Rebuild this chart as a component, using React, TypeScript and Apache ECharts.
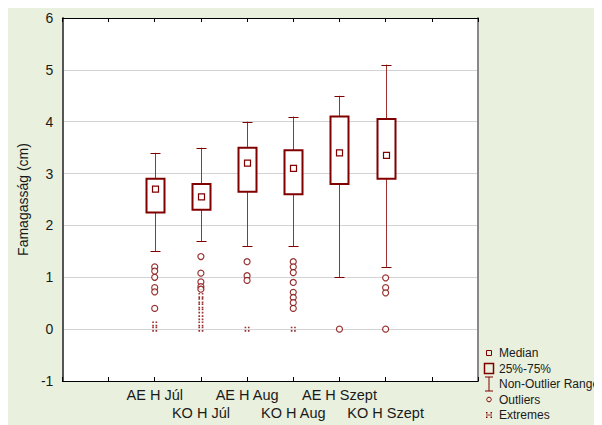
import React, { useEffect, useRef } from "react";
import * as echarts from "echarts";

const categories = ["AE H Júl", "KO H Júl", "AE H Aug", "KO H Aug", "AE H Szept", "KO H Szept"];
const positions = [2, 3, 4, 5, 6, 7];
const whiskerLow = [1.5, 1.7, 1.6, 1.6, 1.0, 1.2];
const q1 = [2.25, 2.3, 2.65, 2.6, 2.8, 2.9];
const medians = [2.7, 2.55, 3.2, 3.1, 3.4, 3.35];
const q3 = [2.9, 2.8, 3.5, 3.45, 4.1, 4.05];
const whiskerHigh = [3.4, 3.5, 4.0, 4.1, 4.5, 5.1];
const outliers = [
  [1.2, 1.12, 1.0, 0.8, 0.72, 0.4],
  [1.4, 1.08, 0.91, 0.82, 0.77],
  [1.3, 1.03, 0.94],
  [1.3, 1.2, 1.09, 0.9, 0.71, 0.61, 0.51, 0.4],
  [0],
  [0.99, 0.8, 0.7, 0],
];
const extremes = [
  [0.1, 0],
  [0.65, 0.55, 0.45, 0.35, 0.22, 0.1, 0],
  [0],
  [0],
  [],
  [],
];
const yTicks = [-1, 0, 1, 2, 3, 4, 5, 6];

const RED = "#800000";
const FONT = "'Liberation Sans', Arial, sans-serif";

export default function App() {
  const ref = useRef<HTMLDivElement>(null);
  useEffect(() => {
    if (!ref.current) return;
    const chart = echarts.init(ref.current, undefined, { renderer: "svg" });
    const boxData = positions.map((p, i) => [p, whiskerLow[i], q1[i], medians[i], q3[i], whiskerHigh[i]]);
    const outData = outliers.flatMap((arr, i) => arr.map((v) => [positions[i], v]));
    const extData = extremes.flatMap((arr, i) => arr.map((v) => [positions[i], v]));

    const legendX = 481;
    const legendTextX = 491;
    const legendRows = [345, 360.5, 376, 391.5, 407];
    const legendLabels = ["Median", "25%-75%", "Non-Outlier Range", "Outliers", "Extremes"];

    const option: any = {
      animation: false,
      backgroundColor: "#e9f0dd",
      grid: {
        left: 54,
        right: 124,
        top: 10,
        bottom: 44,
        show: true,
        backgroundColor: "#ffffff",
        borderWidth: 0,
      },
      xAxis: [
        {
          type: "value",
          min: 0,
          max: 9,
          interval: 1,
          position: "bottom",
          splitLine: { show: false },
          axisLine: { show: true, onZero: false, lineStyle: { color: "#000", width: 1 } },
          axisTick: { show: true, inside: true, length: 4, lineStyle: { color: "#000" } },
          axisLabel: {
            show: true,
            margin: 5,
            fontSize: 14.5,
            lineHeight: 18,
            color: "#1a1a1a",
            fontFamily: FONT,
            hideOverlap: false,
            showMinLabel: true,
            showMaxLabel: true,
            formatter: (v: number) => {
              const i = positions.indexOf(v);
              if (i < 0) return "";
              return i % 2 === 0 ? categories[i] : "\n" + categories[i];
            },
          },
        },
        {
          type: "value",
          min: 0,
          max: 9,
          interval: 1,
          position: "top",
          splitLine: { show: false },
          axisLine: { show: true, onZero: false, lineStyle: { color: "#000", width: 1 } },
          axisTick: { show: true, inside: true, length: 4, lineStyle: { color: "#000" } },
          axisLabel: { show: false },
        },
      ],
      yAxis: [
        {
          type: "value",
          min: -1,
          max: 6,
          interval: 1,
          position: "left",
          name: "Famagasság (cm)",
          nameLocation: "middle",
          nameGap: 32,
          nameTextStyle: { fontSize: 14, color: "#1a1a1a", fontFamily: FONT },
          axisLine: { show: true, onZero: false, lineStyle: { color: "#555", width: 2 } },
          axisTick: { show: false },
          splitLine: { show: true, lineStyle: { color: "#d3d3d3", width: 1 } },
          axisLabel: {
            margin: 9,
            fontSize: 14,
            color: "#1a1a1a",
            fontFamily: FONT,
            formatter: (v: number) => (yTicks.includes(v) ? String(v) : ""),
          },
        },
        {
          type: "value",
          min: -1,
          max: 6,
          interval: 1,
          position: "right",
          axisLine: { show: true, onZero: false, lineStyle: { color: "#888", width: 2 } },
          axisTick: { show: false },
          splitLine: { show: false },
          axisLabel: { show: false },
        },
      ],
      series: [
        {
          type: "custom",
          xAxisIndex: 0,
          yAxisIndex: 0,
          data: boxData,
          encode: { x: 0, y: [1, 2, 3, 4, 5] },
          z: 3,
          renderItem: (params: any, api: any) => {
            const x = api.value(0);
            const pLow = api.coord([x, api.value(1)]);
            const pQ1 = api.coord([x, api.value(2)]);
            const pMed = api.coord([x, api.value(3)]);
            const pQ3 = api.coord([x, api.value(4)]);
            const pHigh = api.coord([x, api.value(5)]);
            const cx = Math.round(pLow[0]) + 0.5;
            const bw = 18;
            const cw = 10;
            const ms = 6;
            return {
              type: "group",
              children: [
                {
                  type: "line",
                  shape: { x1: cx, y1: pLow[1], x2: cx, y2: pQ1[1] },
                  style: { stroke: "#a03030", lineWidth: 1 },
                },
                {
                  type: "line",
                  shape: { x1: cx, y1: pQ3[1], x2: cx, y2: pHigh[1] },
                  style: { stroke: "#a03030", lineWidth: 1 },
                },
                {
                  type: "line",
                  shape: { x1: cx - cw / 2, y1: Math.round(pLow[1]) + 0.5, x2: cx + cw / 2, y2: Math.round(pLow[1]) + 0.5 },
                  style: { stroke: RED, lineWidth: 1 },
                },
                {
                  type: "line",
                  shape: { x1: cx - cw / 2, y1: Math.round(pHigh[1]) + 0.5, x2: cx + cw / 2, y2: Math.round(pHigh[1]) + 0.5 },
                  style: { stroke: RED, lineWidth: 1 },
                },
                {
                  type: "rect",
                  shape: { x: cx - bw / 2, y: pQ3[1], width: bw, height: pQ1[1] - pQ3[1] },
                  style: { stroke: RED, lineWidth: 2, fill: "#fff" },
                },
                {
                  type: "rect",
                  shape: { x: cx - ms / 2, y: pMed[1] - ms / 2, width: ms, height: ms },
                  style: { stroke: RED, lineWidth: 1.2, fill: "#fff" },
                },
              ],
            };
          },
        },
        {
          type: "scatter",
          xAxisIndex: 0,
          yAxisIndex: 0,
          data: outData,
          symbol: "circle",
          symbolSize: 6,
          z: 4,
          itemStyle: { color: "#fff", borderColor: RED, borderWidth: 1.2 },
        },
        {
          type: "scatter",
          xAxisIndex: 0,
          yAxisIndex: 0,
          data: extData,
          symbol: "path://M0,0h2v2h-2z M4,0h2v2h-2z M0,4h2v2h-2z M4,4h2v2h-2z",
          symbolSize: [5, 5],
          z: 4,
          itemStyle: { color: RED },
        },
      ],
      graphic: [
        {
          type: "group",
          children: [
            {
              type: "rect",
              shape: { x: legendX - 2.5, y: legendRows[0] - 2.5, width: 5, height: 5 },
              style: { stroke: RED, lineWidth: 1, fill: "transparent" },
            },
            {
              type: "rect",
              shape: { x: legendX - 4.5, y: legendRows[1] - 5, width: 9, height: 10 },
              style: { stroke: RED, lineWidth: 1.5, fill: "transparent" },
            },
            {
              type: "line",
              shape: { x1: legendX, y1: legendRows[2] - 7, x2: legendX, y2: legendRows[2] + 7 },
              style: { stroke: RED, lineWidth: 1 },
            },
            {
              type: "line",
              shape: { x1: legendX - 4, y1: legendRows[2] - 7, x2: legendX + 4, y2: legendRows[2] - 7 },
              style: { stroke: RED, lineWidth: 1 },
            },
            {
              type: "line",
              shape: { x1: legendX - 4, y1: legendRows[2] + 7, x2: legendX + 4, y2: legendRows[2] + 7 },
              style: { stroke: RED, lineWidth: 1 },
            },
            {
              type: "circle",
              shape: { cx: legendX, cy: legendRows[3], r: 2.3 },
              style: { stroke: RED, lineWidth: 1, fill: "transparent" },
            },
            {
              type: "rect",
              shape: { x: legendX - 3, y: legendRows[4] - 3, width: 1.5, height: 1.5 },
              style: { fill: RED },
            },
            {
              type: "rect",
              shape: { x: legendX + 1.5, y: legendRows[4] - 3, width: 1.5, height: 1.5 },
              style: { fill: RED },
            },
            {
              type: "rect",
              shape: { x: legendX - 3, y: legendRows[4] + 1.5, width: 1.5, height: 1.5 },
              style: { fill: RED },
            },
            {
              type: "rect",
              shape: { x: legendX + 1.5, y: legendRows[4] + 1.5, width: 1.5, height: 1.5 },
              style: { fill: RED },
            },
            {
              type: "line",
              shape: { x1: legendX - 3, y1: legendRows[4], x2: legendX + 3, y2: legendRows[4] },
              style: { stroke: RED, lineWidth: 0.8 },
            },
            ...legendLabels.map((t, i) => ({
              type: "text",
              x: legendTextX,
              y: legendRows[i],
              style: {
                text: t,
                fontSize: 12,
                fontFamily: FONT,
                fill: "#1a1a1a",
                verticalAlign: "middle",
                align: "left",
              },
            })),
          ],
        },
      ],
    };
    chart.setOption(option);
    return () => chart.dispose();
  }, []);
  return <div ref={ref} style={{ width: 594, height: 417 }} />;
}
